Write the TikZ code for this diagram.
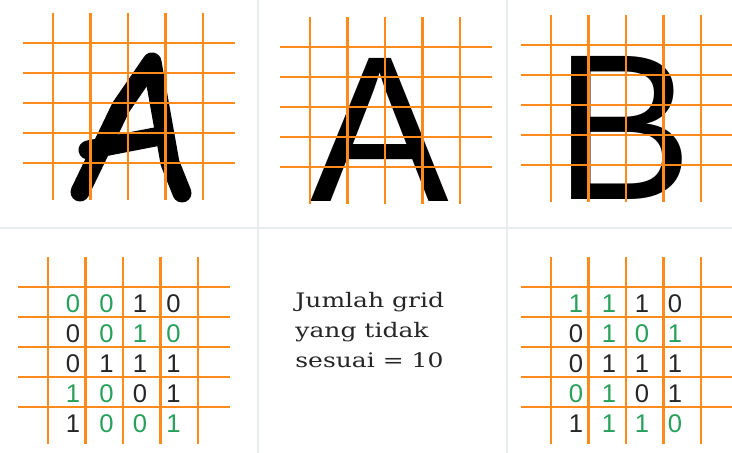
\documentclass[tikz,border=0pt]{standalone}
\usepackage{fontspec}
\usepackage{tikz}
\setmainfont{Liberation Sans}
\newfontfamily\notefont[FakeStretch=1.25]{DejaVu Serif}
\definecolor{gridorange}{RGB}{255,138,28}
\definecolor{diff}{RGB}{38,160,90}
\colorlet{same}{black!85}
\definecolor{paneledge}{RGB}{232,236,236}

% 5 x 5 orange grid, first crossing at (#1,#2)
\newcommand{\orangegrid}[2]{%
  \foreach \i in {0,...,4} {
    \draw[gridline] ({#1+37.5*\i},{#2-30}) -- ({#1+37.5*\i},{#2+157});
    \draw[gridline] ({#1-30},{#2+30*\i}) -- ({#1+182},{#2+30*\i});
  }}

\begin{document}
\begin{tikzpicture}[x=0.5pt,y=-0.5pt,
  gridline/.style={draw=gridorange,line width=1.1pt},
  panel/.style={draw=paneledge,line width=1pt},
  pen/.style={line width=9.5pt,line cap=round,line join=round},
  bigletter/.style={inner sep=0pt,anchor=base,font=\fontsize{104}{104}\selectfont},
  bit/.style={inner sep=0pt,font=\fontsize{12.8}{14}\selectfont}]
  \fill[white] (0,0) rectangle (732,453);
  \useasboundingbox (0,0) rectangle (732,453);

  \draw[panel] (258,0) -- (258,453);
  \draw[panel] (507,0) -- (507,453);
  \draw[panel] (0,228) -- (732,228);

  % handwritten A
  \draw[pen] (80,192) -- (121,107) -- (152,62) -- (160,107) -- (170,163) -- (182,193);
  \draw[pen] (88,150) -- (155,137);

  \node[bigletter] (printA) at (380,202) {A};
  \node[bigletter] (printB) at (624,200) {B};

  \orangegrid{53}{43}
  \orangegrid{310}{47}
  \orangegrid{551}{45}
  \orangegrid{48}{287}
  \orangegrid{551}{287}

  \foreach \cells [count=\r] in {{0/diff,0/diff,1/same,0/same},{0/same,0/diff,1/diff,0/diff},
      {0/same,1/same,1/same,1/same},{1/diff,0/diff,0/same,1/same},{1/same,0/diff,0/diff,1/diff}}
    \foreach \v/\s [count=\c] in \cells
      \node[bit,text=\s] (left-\r-\c) at ({73+33.5*(\c-1)},{304+30*(\r-1)}) {\v};

  \foreach \cells [count=\r] in {{1/diff,1/diff,1/same,0/same},{0/same,1/diff,0/diff,1/diff},
      {0/same,1/same,1/same,1/same},{0/diff,1/diff,0/same,1/same},{1/same,1/diff,1/diff,0/diff}}
    \foreach \v/\s [count=\c] in \cells
      \node[bit,text=\s] (right-\r-\c) at ({576+33*(\c-1)},{304+30*(\r-1)}) {\v};

  \node[anchor=base west,align=left,inner sep=0pt,text=black!85,
    font=\notefont\fontsize{10}{15}\selectfont] (note) at (295,368)
    {Jumlah grid\\yang tidak\\sesuai = 10};
\end{tikzpicture}
\end{document}
